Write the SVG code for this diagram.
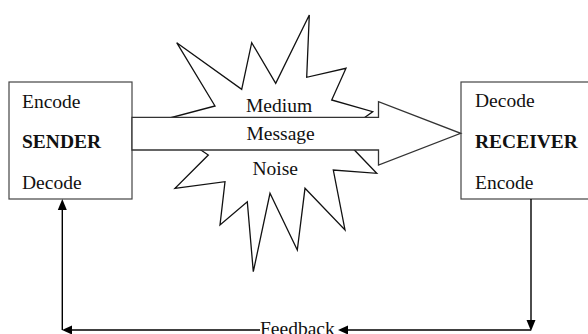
<svg xmlns="http://www.w3.org/2000/svg" width="588" height="334" viewBox="0 0 588 334">
<style>
.t{font-family:"Liberation Serif","Times New Roman",serif;font-size:19.5px;fill:#111}
.b{font-weight:bold}
.box{fill:#fff;stroke:#444;stroke-width:1.2}
.ln{fill:none;stroke:#000;stroke-width:1.4}
.ah{fill:#000}
</style>
<rect width="588" height="334" fill="#fff"/>
<g id="noise-star">
<polygon points="309.3,15 306.7,77.3 346,68.3 331.7,100 372.7,111.7 340,135 376.7,173.3 333.3,170 345,230 305,188.3 297.3,250 270,193.3 253.3,271.7 247.3,201.7 220,225 225,181.7 175,188.3 208.3,155 158,121 215,106 176.7,42.7 241.7,89.3 251.7,42.7 275.7,83.3" fill="#fff" stroke="#111" stroke-width="1.3" stroke-linejoin="miter"/>
</g>
<g id="sender">
<rect class="box" x="9" y="82" width="123" height="117"/>
<text class="t" x="22" y="107.5">Encode</text>
<text class="t b" x="22" y="148">SENDER</text>
<text class="t" x="22" y="188.5">Decode</text>
</g>
<g id="receiver">
<rect class="box" x="461" y="82" width="140" height="117"/>
<text class="t" x="475" y="107">Decode</text>
<text class="t b" x="475" y="148">RECEIVER</text>
<text class="t" x="475" y="188.5">Encode</text>
</g>
<g id="message-arrow">
<polygon points="132,117.3 378.5,117.3 378.5,101.7 460.7,133.3 378.5,165 378.5,150 132,150" fill="#fff" stroke="#333" stroke-width="1.3"/>
<text class="t" x="246" y="111.5">Medium</text>
<text class="t" x="246.5" y="139.5">Message</text>
<text class="t" x="252.5" y="175">Noise</text>
</g>
<g id="connectors">
<polyline class="ln" points="531,199 531,322"/>
<polygon class="ah" points="531,331 526.5,320 535.5,320"/>
<line class="ln" x1="347" y1="330" x2="531" y2="330"/>
<polygon class="ah" points="338,330 348,325.5 348,334.5"/>
<line class="ln" x1="72" y1="330" x2="260" y2="330"/>
<polygon class="ah" points="62,330 72,325.5 72,334.5"/>
<line class="ln" x1="62.3" y1="330" x2="62.3" y2="208"/>
<polygon class="ah" points="62.3,199 57.8,210 66.8,210"/>
<text class="t" x="260" y="335">Feedback</text>
</g>
</svg>
